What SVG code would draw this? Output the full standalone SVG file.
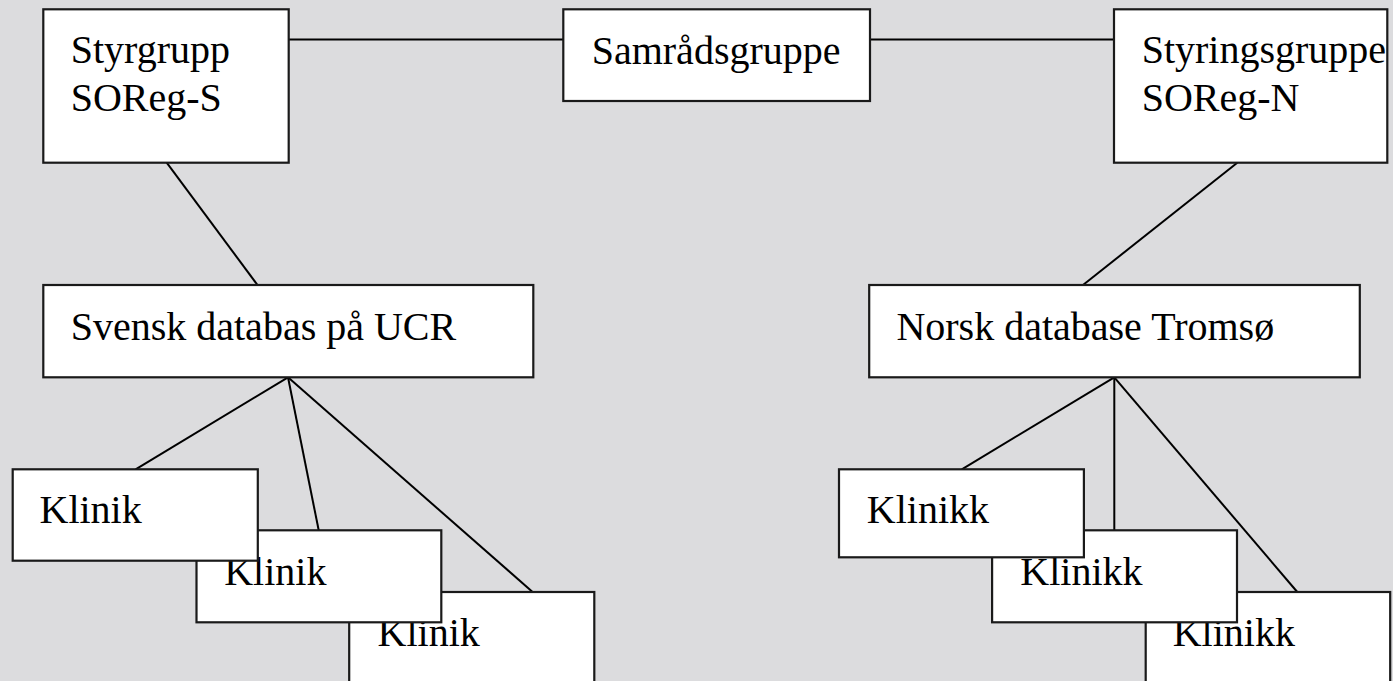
<svg xmlns="http://www.w3.org/2000/svg" width="1393" height="681" viewBox="0 0 1393 681">
<style>
.box{fill:#fff;stroke:#1a1a1a;stroke-width:2.2}
.lbl{font-size:40px;fill:#000}
.conn line{stroke:#000;stroke-width:2}
</style>
<rect x="0" y="0" width="1393" height="681" fill="#dcdcde"/>
<g id="connectors" class="conn">
<line x1="288.7" y1="39.5" x2="563.3" y2="39.5"/>
<line x1="870" y1="39.5" x2="1114" y2="39.5"/>
<line x1="166.7" y1="162.7" x2="257.5" y2="285"/>
<line x1="1237.3" y1="162.7" x2="1083" y2="285"/>
<line x1="288" y1="377.3" x2="135.6" y2="469.3"/>
<line x1="288" y1="377.3" x2="318.7" y2="530.3"/>
<line x1="288" y1="377.3" x2="532.6" y2="592"/>
<line x1="1114.3" y1="377.3" x2="961.8" y2="469.3"/>
<line x1="1114.3" y1="377.3" x2="1114.3" y2="530.3"/>
<line x1="1114.3" y1="377.3" x2="1297.3" y2="592"/>
</g>
<g font-family="Liberation Serif, Times New Roman, DejaVu Serif, serif">
<g id="styrgrupp">
<rect class="box" x="43.3" y="9.3" width="245.4" height="153.4"/>
<text class="lbl" x="70.7" y="62.7">Styrgrupp</text>
<text class="lbl" x="70.7" y="110.7">SOReg-S</text>
</g>
<g id="samradsgruppe">
<rect class="box" x="563.3" y="9.3" width="306.7" height="91.7"/>
<text class="lbl" x="591.7" y="64">Samrådsgruppe</text>
</g>
<g id="styringsgruppe">
<rect class="box" x="1114" y="9.3" width="273.3" height="153.4"/>
<text class="lbl" x="1141.7" y="62.7">Styringsgruppe</text>
<text class="lbl" x="1141.7" y="110.7">SOReg-N</text>
</g>
<g id="svensk-databas">
<rect class="box" x="43.3" y="285" width="490" height="92.3"/>
<text class="lbl" x="70.7" y="340">Svensk databas på UCR</text>
</g>
<g id="norsk-database">
<rect class="box" x="869.2" y="285" width="490.6" height="92.3"/>
<text class="lbl" x="896.4" y="340">Norsk database Tromsø</text>
</g>
<g id="klinik3">
<rect class="box" x="349.2" y="592" width="245.1" height="100"/>
<text class="lbl" x="377.6" y="645.7">Klinik</text>
</g>
<g id="klinik2">
<rect class="box" x="196.5" y="530.3" width="244.8" height="92"/>
<text class="lbl" x="224.2" y="585">Klinik</text>
</g>
<g id="klinik1">
<rect class="box" x="12.7" y="469.3" width="245.1" height="91.4"/>
<text class="lbl" x="39.5" y="523.3">Klinik</text>
</g>
<g id="klinikk3">
<rect class="box" x="1145.7" y="592" width="244.5" height="100"/>
<text class="lbl" x="1172.7" y="645.7">Klinikk</text>
</g>
<g id="klinikk2">
<rect class="box" x="992.1" y="530.3" width="244.9" height="92"/>
<text class="lbl" x="1020.3" y="585">Klinikk</text>
</g>
<g id="klinikk1">
<rect class="box" x="839" y="469.3" width="244.9" height="88"/>
<text class="lbl" x="866.8" y="523.3">Klinikk</text>
</g>
</g>
</svg>
